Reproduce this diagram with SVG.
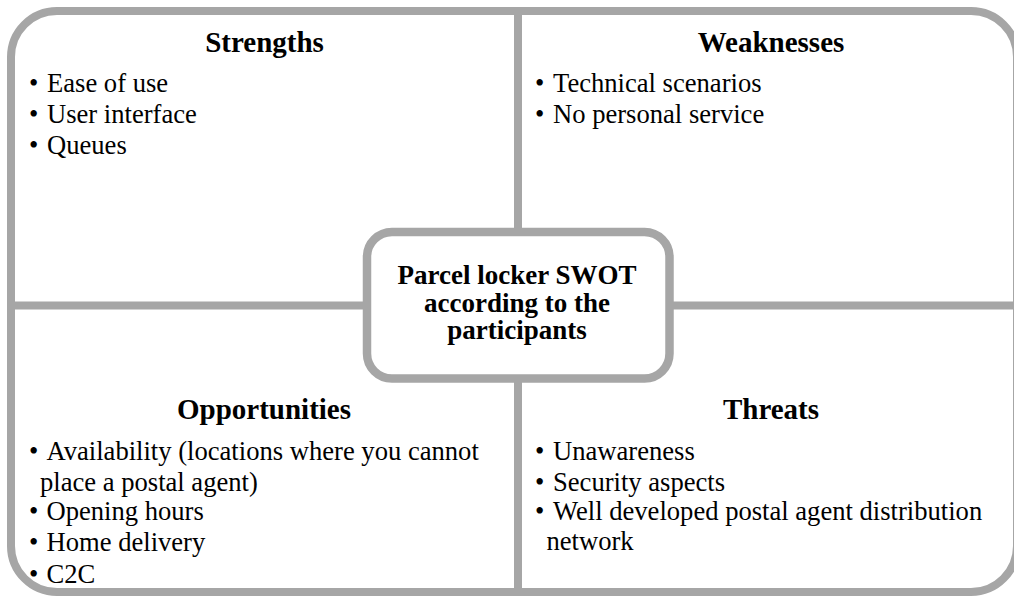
<svg xmlns="http://www.w3.org/2000/svg" width="1014" height="597" viewBox="0 0 1014 597">
  <style>
    .frame { fill: none; stroke: #a6a6a6; stroke-width: 8; }
    .rule { stroke: #a6a6a6; stroke-width: 8; fill: none; }
    .hub { fill: #ffffff; stroke: #a6a6a6; stroke-width: 8.5; }
    text { font-family: 'Liberation Serif', Tinos, serif; fill: #000000; }
    .title { font-size: 29px; font-weight: bold; text-anchor: middle; }
    .item { font-size: 26.6px; }
    .hubtext { font-size: 27px; font-weight: bold; text-anchor: middle; }
  </style>
  <rect width="1014" height="597" fill="#ffffff"/>

  <!-- outer frame and quadrant dividers -->
  <g id="connectors">
    <rect class="frame" x="11" y="11" width="1006" height="581" rx="46" ry="46"/>
    <line class="rule" x1="518" y1="11" x2="518" y2="592"/>
    <line class="rule" x1="11" y1="305.5" x2="1017" y2="305.5"/>
  </g>

  <g id="strengths">
    <text class="title" x="264.5" y="52">Strengths</text>
    <text class="item" y="92"><tspan x="29">•</tspan><tspan x="47">Ease of use</tspan></text>
    <text class="item" y="123"><tspan x="29">•</tspan><tspan x="47">User interface</tspan></text>
    <text class="item" y="154"><tspan x="29">•</tspan><tspan x="47">Queues</tspan></text>
  </g>

  <g id="weaknesses">
    <text class="title" x="771" y="52">Weaknesses</text>
    <text class="item" y="92"><tspan x="535">•</tspan><tspan x="553">Technical scenarios</tspan></text>
    <text class="item" y="123"><tspan x="535">•</tspan><tspan x="553">No personal service</tspan></text>
  </g>

  <g id="opportunities">
    <text class="title" x="264" y="419">Opportunities</text>
    <text class="item" y="460"><tspan x="29">•</tspan><tspan x="46.5">Availability (locations where you cannot</tspan></text>
    <text class="item" x="40" y="490.5">place a postal agent)</text>
    <text class="item" y="520"><tspan x="29">•</tspan><tspan x="46.5">Opening hours</tspan></text>
    <text class="item" y="550.5"><tspan x="29">•</tspan><tspan x="46.5">Home delivery</tspan></text>
    <text class="item" y="582.5"><tspan x="29">•</tspan><tspan x="46.5">C2C</tspan></text>
  </g>

  <g id="threats">
    <text class="title" x="771" y="419">Threats</text>
    <text class="item" y="459.5"><tspan x="535">•</tspan><tspan x="553">Unawareness</tspan></text>
    <text class="item" y="490.5"><tspan x="535">•</tspan><tspan x="553">Security aspects</tspan></text>
    <text class="item" y="520"><tspan x="535">•</tspan><tspan x="553">Well developed postal agent distribution</tspan></text>
    <text class="item" x="546.5" y="549.5">network</text>
  </g>

  <g id="center">
    <rect class="hub" x="367" y="232" width="302.5" height="146.5" rx="25" ry="25"/>
    <text class="hubtext" x="517" y="284">Parcel locker SWOT</text>
    <text class="hubtext" x="517" y="311.5">according to the</text>
    <text class="hubtext" x="517" y="338.5">participants</text>
  </g>
</svg>
